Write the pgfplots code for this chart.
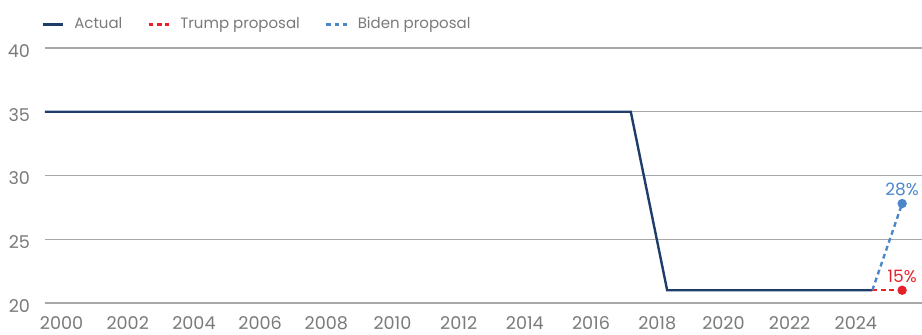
\documentclass[border=0pt]{standalone}
\usepackage{fontspec}
\setmainfont{Poppins}
\usepackage{pgfplots}
\pgfplotsset{compat=1.18}
\definecolor{actual}{HTML}{1F3D6B}
\definecolor{trump}{HTML}{E8202A}
\definecolor{biden}{HTML}{4A86C8}
\definecolor{gridc}{HTML}{A8A8A8}
\definecolor{txt}{HTML}{7A7A7A}
\begin{document}
\begin{tikzpicture}
\begin{axis}[
  name=ax,
  scale only axis,
  width=438.5pt, height=127.5pt,
  xmin=1999.5, xmax=2026,
  ymin=20, ymax=40,
  xtick={2000,2002,...,2024},
  ytick={20,25,30,35,40},
  xmajorgrids=false,
  ymajorgrids=true,
  major grid style={draw=gridc, line width=0.6pt},
  axis line style={draw=none},
  major tick style={draw=none},
  tick label style={font=\fontsize{8.8}{10}\selectfont, text=txt},
  /pgf/number format/assume math mode=true,
  /pgf/number format/1000 sep={},
  yticklabel style={xshift=-4pt, yshift=-1.5pt},
  xticklabel style={yshift=-3.3pt},
  clip=false,
  legend columns=3,
  legend style={draw=none, fill=none, at={(0,1)}, anchor=south west,
    xshift=-5pt, yshift=4pt,
    font=\fontsize{7.5}{9}\selectfont, text=txt,
    /tikz/every even column/.append style={column sep=10.5pt},
    /tikz/every odd column/.append style={column sep=3pt}},
  legend image code/.code={\draw[#1] (0cm,0cm) -- (0.36cm,0cm);},
]
\addlegendimage{actual, line width=1.2pt}
\addlegendentry{Actual}
\addlegendimage{trump, line width=1.2pt, dash pattern=on 2.4pt off 1.8pt}
\addlegendentry{Trump proposal}
\addlegendimage{biden, line width=1.2pt, dash pattern=on 2.4pt off 1.8pt}
\addlegendentry{Biden proposal}

\addplot[forget plot, actual, line width=1.2pt] coordinates {
(1999.5,35) (2017.2,35) (2018.3,21) (2024.5,21)};
\addplot[forget plot, trump, line width=1.2pt, dash pattern=on 2.4pt off 1.8pt,
  mark=*, mark indices={2}, mark size=1.7pt, mark options={solid}] coordinates {
(2024.5,21) (2025.4,21)} node[pos=1, above=0pt, text=trump, font=\fontsize{8.5}{10}\selectfont] {15\%};
\addplot[forget plot, biden, line width=1.2pt, dash pattern=on 2.4pt off 1.8pt,
  mark=*, mark indices={2}, mark size=1.7pt, mark options={solid}] coordinates {
(2024.5,21) (2025.4,27.8)} node[pos=1, above=0pt, text=biden, font=\fontsize{8.5}{10}\selectfont] {28\%};
\end{axis}
\pgfresetboundingbox
\path[use as bounding box] ([xshift=-22.5pt,yshift=-15.5pt]ax.south west) rectangle ([yshift=24pt]ax.north east);
\end{tikzpicture}
\end{document}
